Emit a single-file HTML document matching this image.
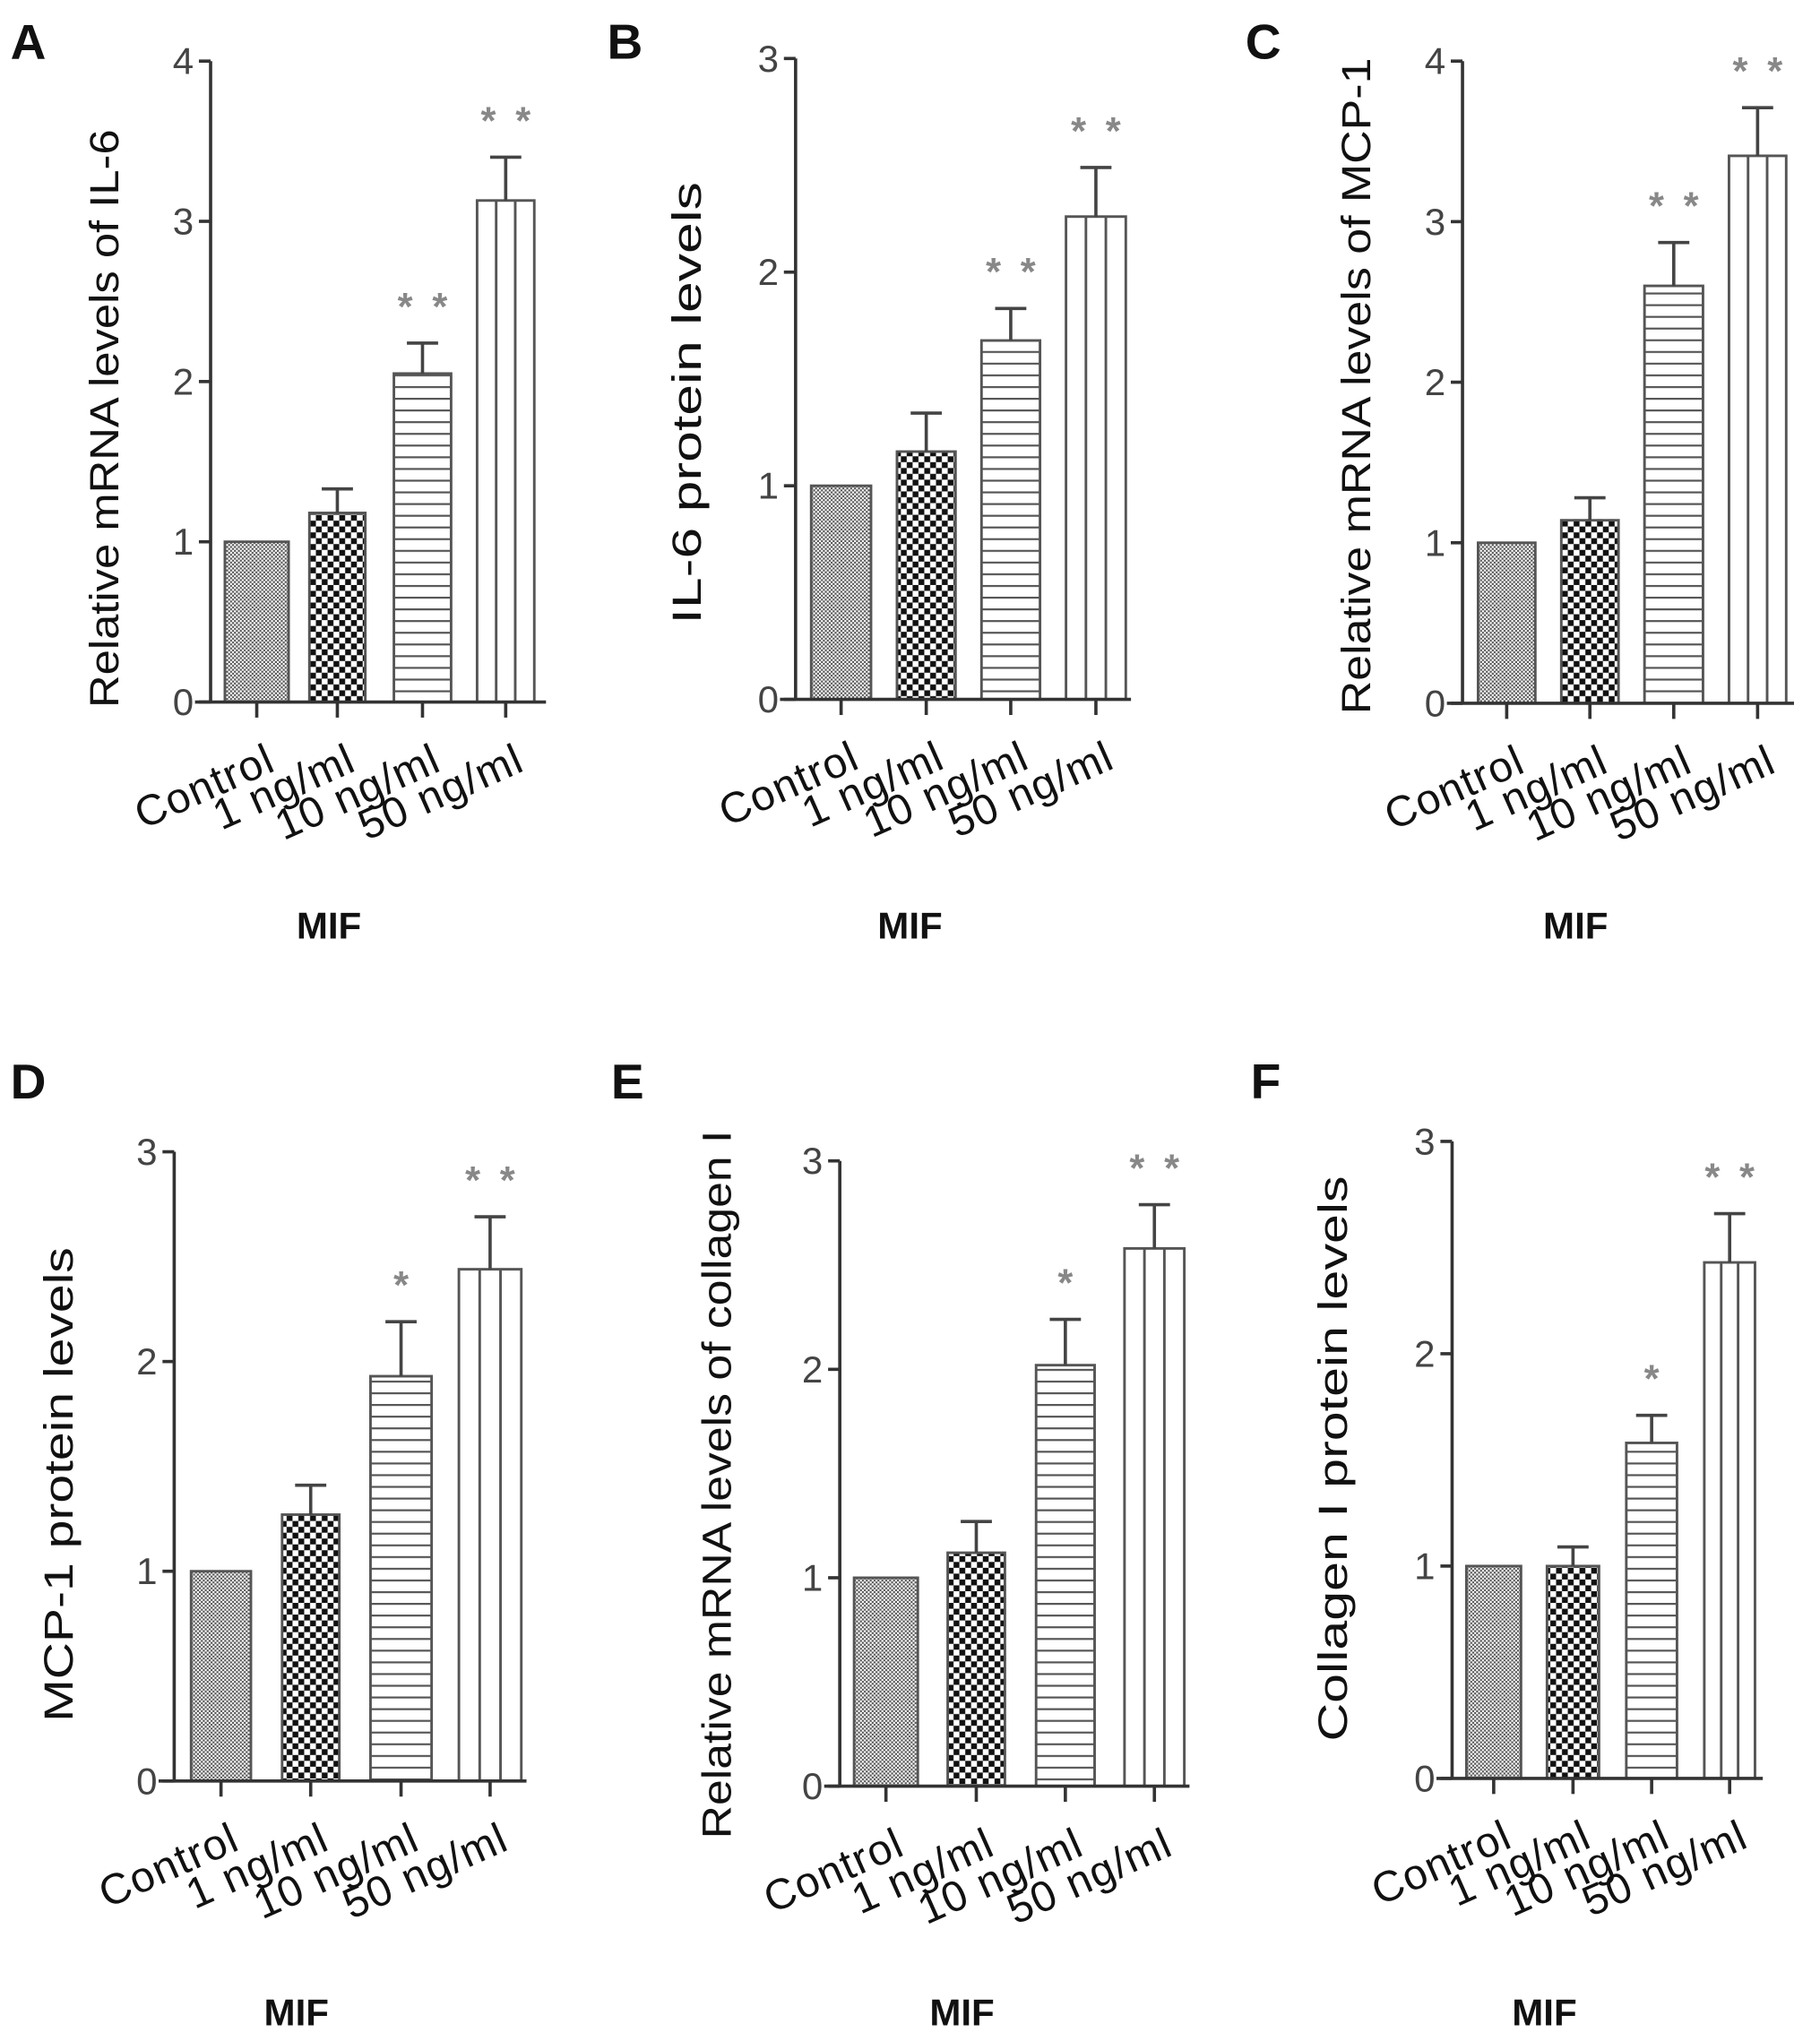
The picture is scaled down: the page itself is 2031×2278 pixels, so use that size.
<!DOCTYPE html>
<html><head><meta charset="utf-8"><style>
html,body{margin:0;padding:0;background:#fff}
svg{display:block}
text{font-family:"Liberation Sans",Arial,sans-serif}
</style></head><body>
<svg id="fig" width="2031" height="2278" viewBox="0 0 1400 1570" preserveAspectRatio="none" xmlns="http://www.w3.org/2000/svg">
<defs>
<pattern id="pDots" width="3" height="3" patternUnits="userSpaceOnUse"><rect width="3" height="3" fill="#fff"/><rect width="1.5" height="1.5" fill="#555"/><rect x="1.5" y="1.5" width="1.5" height="1.5" fill="#555"/></pattern>
<pattern id="pCheck" width="9" height="9" patternUnits="userSpaceOnUse"><rect width="9" height="9" fill="#fff"/><rect width="4.5" height="4.5" fill="#111"/><rect x="4.5" y="4.5" width="4.5" height="4.5" fill="#111"/></pattern>
<pattern id="pHoriz" width="10" height="9" patternUnits="userSpaceOnUse"><rect width="10" height="9" fill="#fff"/><rect y="0" width="10" height="1.5" fill="#555"/></pattern>
</defs>
</svg>
<script>
const categories = ["Control", "1 ng/ml", "10 ng/ml", "50 ng/ml"];
const valsA = [1.0, 1.18, 2.05, 3.13];
const errA  = [0, 0.15, 0.19, 0.27];
const starsA = ["", "", "* *", "* *"];
const valsB = [1.0, 1.16, 1.68, 2.26];
const errB  = [0, 0.18, 0.15, 0.23];
const starsB = ["", "", "* *", "* *"];
const valsC = [1.0, 1.14, 2.60, 3.41];
const errC  = [0, 0.14, 0.27, 0.30];
const starsC = ["", "", "* *", "* *"];
const valsD = [1.0, 1.27, 1.93, 2.44];
const errD  = [0, 0.14, 0.26, 0.25];
const starsD = ["", "", "*", "* *"];
const valsE = [1.0, 1.12, 2.02, 2.58];
const errE  = [0, 0.15, 0.22, 0.21];
const starsE = ["", "", "*", "* *"];
const valsF = [1.0, 1.0, 1.58, 2.43];
const errF  = [0, 0.09, 0.13, 0.23];
const starsF = ["", "", "*", "* *"];
const ticks4 = [0, 1, 2, 3, 4];
const ticks3 = [0, 1, 2, 3];

const panels = [
 {id:"a", letter:"A", lx:8, ly:45, ax:162, y0:540, yTop:47, max:4, ticks:ticks4, vals:valsA, err:errA, stars:starsA, bars:[[173,222],[238,281],[303,347],[367,411]], title:"Relative mRNA levels of IL-6", tx:80, tyc:322, tlen:445, mif:253, mify:722, xEnd:420},
 {id:"b", letter:"B", lx:467, ly:45, ax:612, y0:538, yTop:45, max:3, ticks:ticks3, vals:valsB, err:errB, stars:starsB, bars:[[624,670],[690,735],[755,800],[820,866]], title:"IL-6 protein levels", tx:528, tyc:310, tlen:340, mif:700, mify:722, xEnd:870},
 {id:"c", letter:"C", lx:958, ly:45, ax:1125, y0:541, yTop:47, max:4, ticks:ticks4, vals:valsC, err:errC, stars:starsC, bars:[[1137,1181],[1201,1245],[1265,1310],[1330,1374]], title:"Relative mRNA levels of MCP-1", tx:1043, tyc:297, tlen:505, mif:1212, mify:722, xEnd:1380},
 {id:"d", letter:"D", lx:8, ly:845, ax:134, y0:1370, yTop:886, max:3, ticks:ticks3, vals:valsD, err:errD, stars:starsD, bars:[[147,193],[217,261],[285,332],[353,401]], title:"MCP-1 protein levels", tx:45, tyc:1142, tlen:365, mif:228, mify:1558, xEnd:405},
 {id:"e", letter:"E", lx:470, ly:845, ax:646, y0:1374, yTop:893, max:3, ticks:ticks3, vals:valsE, err:errE, stars:starsE, bars:[[657,706],[729,773],[797,842],[865,911]], title:"Relative mRNA levels of collagen I", tx:551, tyc:1142, tlen:545, mif:740, mify:1558, xEnd:915},
 {id:"f", letter:"F", lx:962, ly:845, ax:1117, y0:1368, yTop:878, max:3, ticks:ticks3, vals:valsF, err:errF, stars:starsF, bars:[[1128,1170],[1190,1230],[1251,1290],[1311,1350]], title:"Collagen I protein levels", tx:1025, tyc:1122, tlen:435, mif:1188, mify:1558, xEnd:1356}
];
const fills = ["url(#pDots)","url(#pCheck)","url(#pHoriz)","#fff"];
const svg = document.getElementById('fig');
const NS = "http://www.w3.org/2000/svg";
function mk(tag, attrs, parent, txt){
  const e = document.createElementNS(NS, tag);
  for (const k in attrs) e.setAttribute(k, attrs[k]);
  if (txt !== undefined) e.textContent = txt;
  parent.appendChild(e); return e;
}
panels.forEach(p => {
  const g = mk('g', {}, svg);
  
  
  const yS = v => p.y0 - (v / p.max) * (p.y0 - p.yTop);
  const L = mk('text', {x:p.lx, y:p.ly, 'font-size':38, 'font-weight':'bold', fill:'#111'}, g, p.letter);
  
  
  const ya = mk('line', {x1:p.ax, y1:p.yTop, x2:p.ax, y2:p.y0, stroke:'#333', 'stroke-width':2.5}, g);
  
  
  p.ticks.forEach(t => {
    const y = yS(t);
    mk('line', {x1:p.ax-9, y1:y, x2:p.ax, y2:y, stroke:'#333', 'stroke-width':2.5}, g);
    const tl = mk('text', {x:p.ax-13, y:y+10, 'font-size':29, fill:'#444', 'text-anchor':'end'}, g, String(t));
    
    
  });
  const tt = mk('text', {x:0, y:0, 'font-size':31, fill:'#111', 'text-anchor':'middle', textLength:p.tlen, lengthAdjust:'spacingAndGlyphs', transform:`translate(${p.tx+11},${p.tyc}) rotate(-90)`}, g, p.title);
  
  
  p.bars.forEach((b, i) => {
    const x0 = b[0], w = b[1]-b[0], cx = (b[0]+b[1])/2;
    const top = yS(p.vals[i]);
    const r = mk('rect', {x:x0, y:top, width:w, height:p.y0-top, fill:fills[i], stroke:'#555', 'stroke-width':2}, g);
    
    
    if (i === 3) {
      [1/3, 2/3].forEach(f => mk('line', {x1:x0+w*f, y1:top, x2:x0+w*f, y2:p.y0, stroke:'#555', 'stroke-width':2}, g));
    }
    if (p.err[i] > 0) {
      const ey = yS(p.vals[i] + p.err[i]);
      const eb = mk('path', {d:`M${cx},${top} V${ey} M${cx-12},${ey} H${cx+12}`, stroke:'#444', 'stroke-width':2.5, fill:'none'}, g);
      
      
    }
    if (p.stars[i]) {
      const st = mk('text', {x:cx, y:yS(p.vals[i] + p.err[i]) - 18, 'font-size':30, fill:'#888', 'text-anchor':'middle', 'font-weight':'bold'}, g, p.stars[i].replace(' ', '\u2002'));
      
      
    }
    mk('line', {x1:cx, y1:p.y0, x2:cx, y2:p.y0+12, stroke:'#333', 'stroke-width':2.5}, g);
    const cl = mk('text', {x:0, y:0, 'font-size':33, fill:'#111', 'text-anchor':'end', 'letter-spacing':'1', transform:`translate(${cx+16},${p.y0+52}) rotate(-24)`}, g, categories[i]);
    
    
  });
  const xa = mk('line', {x1:p.ax-12, y1:p.y0, x2:p.xEnd, y2:p.y0, stroke:'#333', 'stroke-width':2.5}, g);
  
  
  const m = mk('text', {x:p.mif, y:p.mify, 'font-size':29, fill:'#111', 'text-anchor':'middle', 'font-weight':'bold'}, g, "MIF");
  
  
});
</script>
</body></html>
